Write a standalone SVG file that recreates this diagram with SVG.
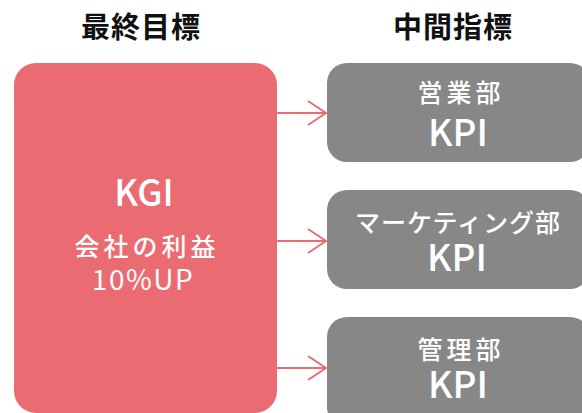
<svg xmlns="http://www.w3.org/2000/svg" width="582" height="413" viewBox="0 0 582 413">
<defs>
<style>
.t{font-family:"Noto Sans CJK JP","Noto Sans",sans-serif;text-anchor:middle}
.hd{font-size:29px;font-weight:700;fill:#111111;letter-spacing:1px}
.w{fill:#ffffff}
.big{font-size:37px;font-weight:500}
.sub{font-size:25px;font-weight:500}
.kgi{fill:#eb6b73}
.kpi{fill:#878787}
.arr{stroke:#eb6b73;stroke-width:2;fill:none}
</style>
<marker id="chev" markerUnits="userSpaceOnUse" markerWidth="24" markerHeight="30" refX="20" refY="13" orient="auto">
<path d="M2,1 L20,13 L2,25" class="arr"/>
</marker>
</defs>
<rect width="582" height="413" fill="#ffffff"/>
<text class="t hd" x="141" y="38">最終目標</text>
<text class="t hd" x="453" y="38">中間指標</text>
<g id="connectors">
<line x1="277" y1="113" x2="326" y2="113" class="arr" marker-end="url(#chev)"/>
<line x1="277" y1="241" x2="326" y2="241" class="arr" marker-end="url(#chev)"/>
<line x1="277" y1="368" x2="326" y2="368" class="arr" marker-end="url(#chev)"/>
</g>
<g id="kgi">
<rect class="kgi" x="14" y="63" width="263" height="350" rx="22"/>
<text class="t w" x="144" y="206" style="font-size:36px;font-weight:500">KGI</text>
<text class="t w sub" x="147" y="256" style="letter-spacing:4px">会社の利益</text>
<text class="t w" x="143" y="290" style="font-size:28px;font-weight:400;letter-spacing:1.5px">10%UP</text>
</g>
<g id="kpi-sales">
<rect class="kpi" x="327" y="63" width="263" height="99" rx="20"/>
<text class="t w sub" x="461" y="102" style="letter-spacing:4px">営業部</text>
<text class="t w big" x="458" y="146">KPI</text>
</g>
<g id="kpi-marketing">
<rect class="kpi" x="327" y="190" width="263" height="99" rx="20"/>
<text class="t w sub" x="458" y="232" style="letter-spacing:1px">マーケティング部</text>
<text class="t w big" x="457" y="271">KPI</text>
</g>
<g id="kpi-admin">
<rect class="kpi" x="327" y="317" width="263" height="110" rx="20"/>
<text class="t w sub" x="461" y="359" style="letter-spacing:4px">管理部</text>
<text class="t w big" x="458" y="398">KPI</text>
</g>
</svg>
